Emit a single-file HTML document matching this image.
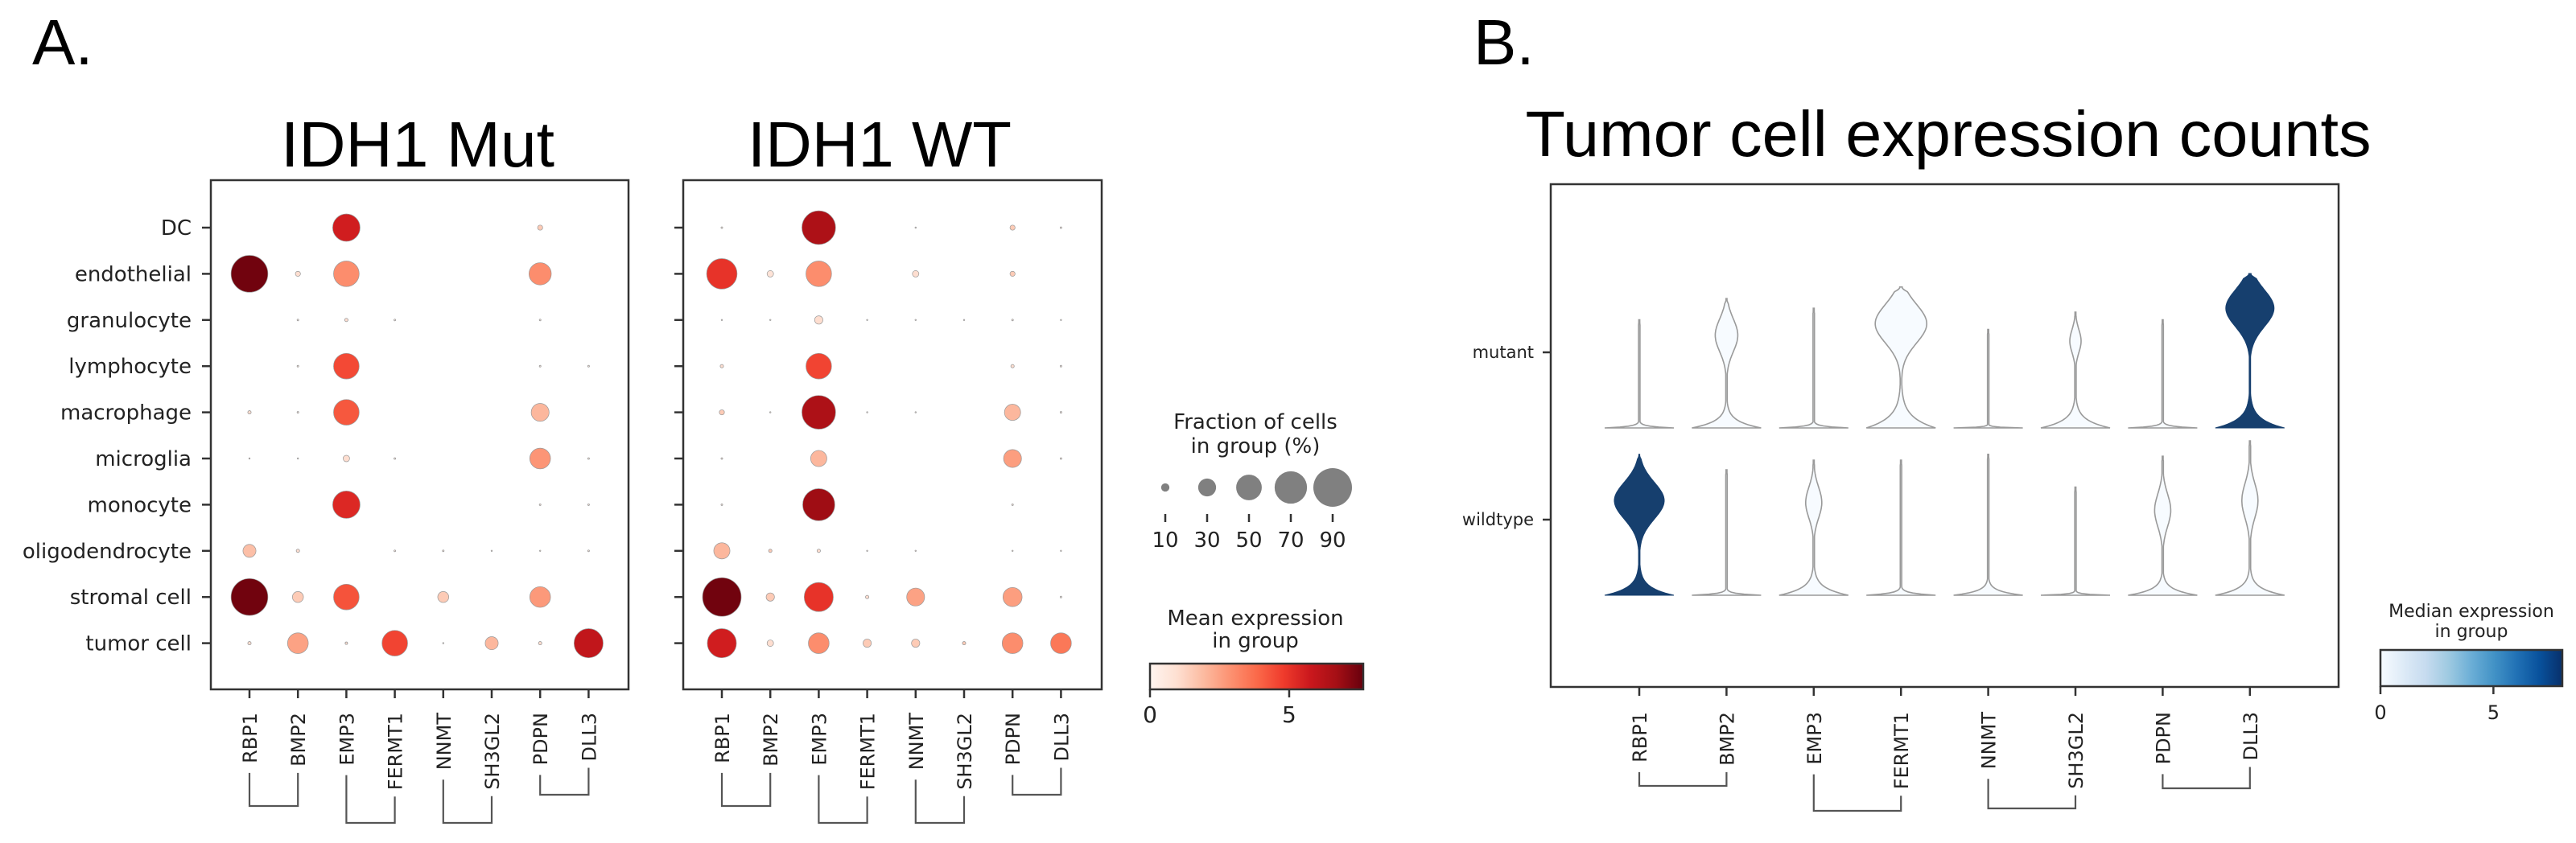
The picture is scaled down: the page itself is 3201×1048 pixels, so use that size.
<!DOCTYPE html>
<html><head><meta charset="utf-8"><style>
html,body{margin:0;padding:0;background:#fff;}
svg{display:block;}
text{font-family:"DejaVu Sans","Liberation Sans",sans-serif;fill:#222;}
.big{font-family:"Liberation Sans",sans-serif;fill:#000;}
</style></head><body>
<svg id="fig" width="3201" height="1048" viewBox="0 0 3201 1048" xmlns="http://www.w3.org/2000/svg">
<defs>
<linearGradient id="reds" x1="0" x2="1" y1="0" y2="0">
<stop offset="0" stop-color="#fff5f0"/><stop offset="0.125" stop-color="#fee0d2"/><stop offset="0.25" stop-color="#fcbba1"/><stop offset="0.375" stop-color="#fc9272"/><stop offset="0.5" stop-color="#fb6a4a"/><stop offset="0.625" stop-color="#ef3b2c"/><stop offset="0.75" stop-color="#cb181d"/><stop offset="0.875" stop-color="#a50f15"/><stop offset="1" stop-color="#67000d"/>
</linearGradient>
<linearGradient id="blues" x1="0" x2="1" y1="0" y2="0">
<stop offset="0" stop-color="#f7fbff"/><stop offset="0.125" stop-color="#deebf7"/><stop offset="0.25" stop-color="#c6dbef"/><stop offset="0.375" stop-color="#9ecae1"/><stop offset="0.5" stop-color="#6baed6"/><stop offset="0.625" stop-color="#4292c6"/><stop offset="0.75" stop-color="#2171b5"/><stop offset="0.875" stop-color="#08519c"/><stop offset="1" stop-color="#08306b"/>
</linearGradient>
</defs>
<text class="big" x="40" y="80" font-size="80">A.</text>
<text class="big" x="1831" y="80" font-size="80">B.</text>
<text class="big" x="519" y="207" font-size="80" text-anchor="middle" textLength="340" lengthAdjust="spacingAndGlyphs">IDH1 Mut</text>
<text class="big" x="1093" y="207" font-size="80" text-anchor="middle" textLength="328" lengthAdjust="spacingAndGlyphs">IDH1 WT</text>
<text class="big" x="2421" y="194" font-size="80" text-anchor="middle" textLength="1051" lengthAdjust="spacingAndGlyphs">Tumor cell expression counts</text>
<g id="g"></g>
</svg>
<script>
// ---------- data ----------
const genes = ["RBP1","BMP2","EMP3","FERMT1","NNMT","SH3GL2","PDPN","DLL3"];
const cellTypes = ["DC","endothelial","granulocyte","lymphocyte","macrophage","microglia","monocyte","oligodendrocyte","stromal cell","tumor cell"];
// fraction of cells (%) - IDH1 Mut
const mutFrac = [
[0,0,55,0,0,0,5,0],
[84,5,50,0,0,0,41,0],
[0,1,2.7,1,0,0,1,0],
[0,1,50,0,0,0,1,1],
[2.7,1,50,0,0,0,30,0],
[0.4,0.4,7,1,0,0,37,1],
[0,0,55,0,0,0,1,1],
[19,2.7,0,1,1,0.4,0.4,1],
[84,15,50,0,15,0,37,0],
[2.7,37,1.8,50,0.4,19,2.7,60]];
const mutExpr = [
[0,0,5.6,0,0,0,1.5,0],
[7.5,1,3,0,0,0,3,0],
[0,0.5,1,0.5,0,0,0.5,0],
[0,0.5,4.5,0,0,0,0.5,0.5],
[1,0.5,4.2,0,0,0,2,0],
[0.5,0.5,1,0.5,0,0,2.8,0.5],
[0,0,5.3,0,0,0,0.5,0.5],
[1.8,1,0,0.5,0.5,0.5,0.5,0.5],
[7.5,1.5,4.3,0,1.5,0,2.7,0],
[1,2.5,1,4.6,0.5,2,1,6]];
// fraction of cells (%) - IDH1 WT
const wtFrac = [
[1,0,74,0,0.4,0,5,1],
[64,7,50,0,7,0,5,0],
[0.4,0.4,10,0.4,0.4,0.4,1,0.4],
[2.7,0,50,0,0,0,2.7,1],
[5,0.4,74,0.4,0.4,0,26,1],
[1,0,26,0,0,0,30,1],
[1,0,69,0,0,0,1,0],
[26,2.7,2.7,0.4,0.4,0,0.4,0.4],
[90,10,60,2.7,30,0,33,1],
[60,7,37,10,10,2.7,37,37]];
const wtExpr = [
[0.5,0,6.5,0,0.5,0,1.5,0.5],
[5,0.8,3,0,1,0,1.5,0],
[0.5,0.5,1,0.5,0.5,0.5,0.5,0.5],
[1,0,4.6,0,0,0,1,0.5],
[1.5,0.5,6.5,0.5,0.5,0,2,0.5],
[0.5,0,2,0,0,0,2.6,0.5],
[0.5,0,6.8,0,0,0,0.5,0],
[2,1.5,1,0.5,0.5,0,0.5,0.5],
[7.5,1.5,5,1,2.5,0,2.6,0.5],
[5.6,1,3,1.5,1.5,1.5,3,3.5]];
const sizeTicks = [10,30,50,70,90];
const redTicks = [0,5];
const blueTicks = [0,5];
// violin data (expression units)
const groups = ["mutant","wildtype"];
const vMax  = [[5.6,6.7,6.2,7.3,5.1,6.0,5.6,8.0],[7.3,6.5,7.0,7.0,7.3,5.6,7.2,8.0]];
const vMode = [[0,4.8,0,5.4,0,4.5,0,6.2],[4.9,0,4.8,0,0,0,4.4,4.9]];
const vModeW= [[0,14,0,32,0,7,0,30],[31,0,10,0,0,0,10,10]];
const vModeS= [[0,0.85,0,1.0,0,0.6,0,0.95],[0.95,0,0.8,0,0,0,0.85,0.9]];
const vBase = [[0.3,1.3,0.3,2.1,0.15,1.5,0.3,1.7],[1.5,0.3,1.4,0.4,0.8,0.2,1.1,1.3]];
const vMedian=[[0,0,0,0,0,0,0,7],[7,0,0,0,0,0,0,0]];

// ---------- helpers ----------
const NS="http://www.w3.org/2000/svg";
const G=document.getElementById('g');
function mk(tag,attrs,parent){const e=document.createElementNS(NS,tag);for(const k in attrs)e.setAttribute(k,attrs[k]);(parent||G).appendChild(e);return e;}
function interp(stops,t){t=Math.max(0,Math.min(1,t));const n=stops.length-1;const i=Math.min(n-1,Math.floor(t*n));const f=t*n-i;
 const a=stops[i],b=stops[i+1];const c=[0,1,2].map(k=>Math.round(a[k]+(b[k]-a[k])*f));return `rgb(${c[0]},${c[1]},${c[2]})`;}
const REDS=[[255,245,240],[254,224,210],[252,187,161],[252,146,114],[251,106,74],[239,59,44],[203,24,29],[165,15,21],[103,0,13]];
const BLUES=[[247,251,255],[222,235,247],[198,219,239],[158,202,225],[107,174,214],[66,146,198],[33,113,181],[8,81,156],[8,48,107]];
const redMax=7.66, blueMax=8.05;
const rScale=f=>24*Math.pow(f/90,0.7);

// ---------- dot plots ----------
function dotPanel(x0,x1,colX0,frac,expr,name,showRows){
 const yTop=224,yBot=857;
 const rowY=i=>283+i*57.4;
 const colX=j=>colX0+j*60.2;
 const box=mk('rect',{x:x0,y:yTop,width:x1-x0,height:yBot-yTop,fill:'none',stroke:'#333','stroke-width':2.5});
 
 
 cellTypes.forEach((c,i)=>{
  const tk=mk('line',{x1:x0-11,x2:x0,y1:rowY(i),y2:rowY(i),stroke:'#333','stroke-width':2.5});
  
  
  if(showRows){const t=mk('text',{x:x0-24,y:rowY(i)+9,'font-size':26,'text-anchor':'end'});t.textContent=c;
   
   }
  genes.forEach((g,j)=>{
   const f=frac[i][j]; if(f<=0) return;
   const r=rScale(f);
   const d=mk('circle',{cx:colX(j),cy:rowY(i),r:Math.max(r,0.8),fill:interp(REDS,expr[i][j]/redMax),stroke:'#999','stroke-width':r<3?0.8:0.7});
   
   
  });
 });
 geneLabels(colX,yBot,886,[1002,1023,1023,988],name);
}
function geneLabels(colX,yBot,labTop,pairY,name){
 const ends=[];
 genes.forEach((g,j)=>{
  const tk=mk('line',{x1:colX(j),x2:colX(j),y1:yBot,y2:yBot+11,stroke:'#333','stroke-width':2.5});
  
  
  const t=mk('text',{x:0,y:0,'font-size':24,'text-anchor':'end',transform:`translate(${colX(j)+9},${labTop}) rotate(-90)`});
  t.textContent=g;
  
  
  ends.push(labTop+t.getComputedTextLength());
 });
 for(let p=0;p<4;p++){
  const a=2*p,b=2*p+1,hy=pairY[p];
  const pl=mk('polyline',{points:`${colX(a)},${ends[a]+12} ${colX(a)},${hy} ${colX(b)},${hy} ${colX(b)},${ends[b]+8}`,fill:'none',stroke:'#555','stroke-width':2.2});
  
  
 }
}
dotPanel(262,781,310,mutFrac,mutExpr,'mut',true);
dotPanel(849,1369,897,wtFrac,wtExpr,'wt',false);

// size legend
(function(){
 const l1=mk('text',{x:1560,y:533,'font-size':26,'text-anchor':'middle'});l1.textContent='Fraction of cells';
 
 
 const l2=mk('text',{x:1560,y:563,'font-size':26,'text-anchor':'middle'});l2.textContent='in group (%)';
 
 
 sizeTicks.forEach((s,k)=>{
  const x=1448+k*52;
  const c=mk('circle',{cx:x,cy:606,r:rScale(s),fill:'#808080'});
  
  
  mk('line',{x1:x,x2:x,y1:639,y2:649,stroke:'#333','stroke-width':2.5});
  const t=mk('text',{x:x,y:680,'font-size':26,'text-anchor':'middle'});t.textContent=s;
  
  
 });
})();
function colorbar(x0,x1,y0,y1,grad,max,ticks,title1,title2,cx,ty1,ty2,fs,name){
 const a=mk('text',{x:cx,y:ty1,'font-size':fs,'text-anchor':'middle'});a.textContent=title1;
 
 
 const b=mk('text',{x:cx,y:ty2,'font-size':fs,'text-anchor':'middle'});b.textContent=title2;
 
 
 const r=mk('rect',{x:x0,y:y0,width:x1-x0,height:y1-y0,fill:`url(#${grad})`,stroke:'#333','stroke-width':2.5});
 
 
 ticks.forEach(v=>{const x=x0+(x1-x0)*v/max;
  mk('line',{x1:x,x2:x,y1:y1,y2:y1+10,stroke:'#333','stroke-width':2.5});
  const t=mk('text',{x:x,y:y1+41,'font-size':fs+2,'text-anchor':'middle'});t.textContent=v;
  
  });
}
colorbar(1429,1694,825,857,'reds',redMax,redTicks,'Mean expression','in group',1560,777,805,26,'red-colorbar');
colorbar(2958,3184,808,853,'blues',blueMax,blueTicks,'Median expression','in group',3071,767,792,22,'blue-colorbar');

// ---------- violin plot ----------
(function(){
 const x0=1927,x1=2906,yTop=229,yBot=854;
 const colX=j=>2037+j*108.4;
 const baseY=[532,740];
 const pxU=24;
 const fr=mk('rect',{x:x0,y:yTop,width:x1-x0,height:yBot-yTop,fill:'none',stroke:'#333','stroke-width':2.5});
 
 
 groups.forEach((g,i)=>{
  const ly=[438,646][i];
  const tk=mk('line',{x1:x0-10,x2:x0,y1:ly,y2:ly,stroke:'#333','stroke-width':2.5});
  
  
  const t=mk('text',{x:x0-21,y:ly+7,'font-size':21,'text-anchor':'end'});t.textContent=g;
  
  
  genes.forEach((gn,j)=>{
   const mx=vMax[i][j],N=120,cx=colX(j),by=baseY[i];
   const pts=[];
   for(let k=0;k<=N;k++){
    const v=mx*k/N;
    let hw=43*Math.exp(-v/(vBase[i][j]/3.7));
    if(vModeW[i][j]>0){hw+=vModeW[i][j]*Math.exp(-0.5*Math.pow((v-vMode[i][j])/vModeS[i][j],2));}
    hw=Math.max(hw,0.9);
    const taper=Math.min(1,(mx-v)/0.25);
    hw=Math.max(hw*Math.max(taper,0.3),0.6);
    pts.push([v,hw]);
   }
   let d='';
   pts.forEach((p,k)=>{d+=(k?'L':'M')+(cx-p[1]).toFixed(1)+','+(by-p[0]*pxU).toFixed(1);});
   for(let k=pts.length-1;k>=0;k--){const p=pts[k];d+='L'+(cx+p[1]).toFixed(1)+','+(by-p[0]*pxU).toFixed(1);}
   d+='Z';
   const dark=vMedian[i][j]>0;
   const pth=mk('path',{d:d,fill:dark?'#163f6e':interp(BLUES,vMedian[i][j]/blueMax),stroke:dark?'#163f6e':'#9a9a9a','stroke-width':dark?1:1.6});
   
   
  });
 });
 geneLabels(colX,yBot,885,[977,1008,1005,980],'violin');
})();
</script>
</body></html>
